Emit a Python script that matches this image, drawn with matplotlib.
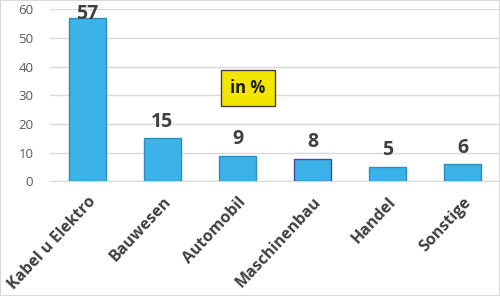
import matplotlib
matplotlib.use("Agg")
import matplotlib.pyplot as plt
from matplotlib.patches import Rectangle

categories = ["Kabel u Elektro", "Bauwesen", "Automobil", "Maschinenbau", "Handel", "Sonstige"]
values = [57, 15, 9, 8, 5, 6]
yticks = [0, 10, 20, 30, 40, 50, 60]

plt.rcParams['font.family'] = ['Open Sans', 'DejaVu Sans']

fig = plt.figure(figsize=(5, 2.96), dpi=100)
ax = fig.add_axes([0.1, 0.387, 0.9, 0.581])

x = list(range(len(categories)))
edges = ['#2a8fc0'] * len(categories)
edges[3] = '#4a4a9a'
ax.bar(x, values, width=0.5, color='#3bb2e8', edgecolor=edges, linewidth=1.0, zorder=3)

for xi, v in zip(x, values):
    ax.text(xi, min(v + 5.8, 58.3), str(v), ha='center', va='center',
            fontsize=14, fontweight='bold', color='#404040', zorder=4)

ax.set_xlim(-0.5, len(categories) - 0.5)
ax.set_ylim(0, 60)
ax.set_yticks(yticks)
ax.grid(axis='y', color='#d9d9d9', linewidth=1, zorder=0)
for s in ['top', 'right', 'left']:
    ax.spines[s].set_visible(False)
ax.spines['bottom'].set_color('#d9d9d9')
ax.tick_params(axis='both', length=0)
ax.tick_params(axis='y', labelsize=9.5, labelcolor='#595959', pad=12)
ax.set_xticks(x)
ax.set_xticklabels(categories, rotation=47, ha='right', rotation_mode='anchor',
                   fontsize=11.5, fontweight='bold', color='#404040')
ax.tick_params(axis='x', pad=9)

ax.text(0.44, (181.5 - 88.5) / 171.5, "in %", transform=ax.transAxes,
        ha='center', va='center', fontsize=12, fontweight='bold', color='#1a1a1a',
        bbox=dict(boxstyle='square,pad=0.55', facecolor='#f2e600', edgecolor='#404040', linewidth=1),
        zorder=5)

fig.patches.append(Rectangle((0, 0), 1, 1, transform=fig.transFigure, fill=False,
                             edgecolor='#d9d9d9', linewidth=1.5))

fig.savefig("out.png", dpi=100)
